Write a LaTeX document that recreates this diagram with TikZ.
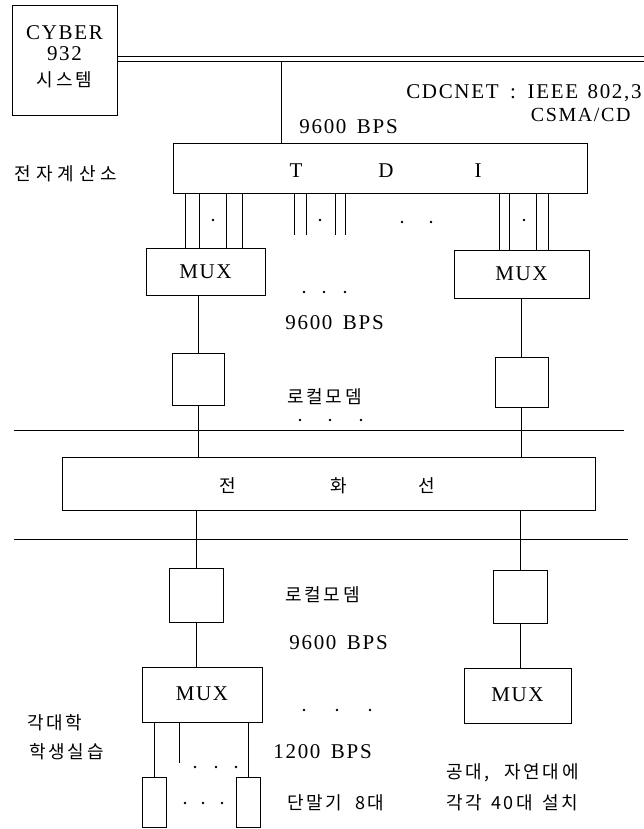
\documentclass[tikz,border=0pt]{standalone}
\usepackage{fontspec}
\setmainfont{Liberation Serif}[LetterSpace=8]
\newfontfamily\kr{Noto Sans CJK KR}[LetterSpace=15]
\newfontfamily\krwide{Noto Sans CJK KR}[LetterSpace=28]
\begin{document}
\begin{tikzpicture}[x=1pt,y=-1pt,line width=0.9pt,
  box/.style={draw,rectangle,inner sep=0pt},
  txt/.style={inner sep=0pt,font=\fontsize{21}{23}\selectfont},
  ktxt/.style={inner sep=0pt,font=\kr\fontsize{18}{20}\selectfont}]
\useasboundingbox (0,0) rectangle (644,829);
% CYBER
\node[box,minimum width=105pt,minimum height=110pt] (cyber) at (64.5,60) {};
\node[txt] (cy1) at (64.5,33) {CYBER};
\node[txt] (cy2) at (64.5,54) {932};
\node[ktxt] (cy3) at (64.5,80) {시스템};
% bus
\coordinate (bus1) at (644,56);
\coordinate (bus2) at (644,61);
\draw (cyber.east |- bus1) -- (bus1);
\draw (cyber.east |- bus2) -- (bus2);
\node[txt,anchor=east] (cdc) at (642,93) {CDCNET\hspace{0.55em}:\hspace{0.55em}IEEE\hspace{0.45em}802,3};
\node[txt,font=\fontsize{20}{22}\selectfont,anchor=east] (csma) at (631,115) {CSMA/CD};
\node[txt,anchor=west] (bps1) at (299,127) {9600\hspace{0.5em}BPS};
% TDI
\node[box,minimum width=414pt,minimum height=50pt] (tdi) at (380,168) {};
\node[txt] (tT) at (296,171) {T};
\node[txt] (tD) at (386,171) {D};
\node[txt] (tI) at (478,171) {I};
\node[ktxt,font=\krwide\fontsize{18}{20}\selectfont] (center) at (66,174) {전자계산소};
\coordinate (tap) at (281,61);
\draw (tap) -- (tap |- tdi.north);
% MUX upper
\node[box,minimum width=119pt,minimum height=47pt] (muxL) at (205.5,271.5) {};
\node[txt] (muxLt) at (205.5,272) {MUX};
\node[box,minimum width=135pt,minimum height=48pt] (muxR) at (521.5,274) {};
\node[txt] (muxRt) at (521.5,274) {MUX};
% lines TDI -> MUX
\foreach \x in {185,199,226,242} \draw (\x,193) -- (\x,248);
\foreach \x in {294,306,335,345} \draw (\x,193) -- (\x,235);
\foreach \x in {499,509,536,548} \draw (\x,193) -- (\x,250);
\foreach \x/\y in {213/220,320/220,524/220,402/222,431/222,304/292,324/292,345/292,300/420,330/420,361/420,304/710,337/710,370/710,195/767,216/767,236/767,185/803,203/803,222/803}
  \fill (\x,\y) circle (1.3pt);
\node[txt,anchor=west] (bps2) at (285,323) {9600\hspace{0.5em}BPS};
% modems upper
\node[box,minimum width=52pt,minimum height=52pt] (modL) at (198,379) {};
\node[box,minimum width=53pt,minimum height=50pt] (modR) at (521.5,382) {};
\draw (modL.north) -- (modL.north |- muxL.south);
\draw (modR.north) -- (modR.north |- muxR.south);
\node[ktxt,anchor=west] (lm1) at (287,397) {로컬모뎀};
% separators
\coordinate (s1a) at (14,430); \coordinate (s1b) at (624,430);
\draw (s1a) -- (s1b);
\coordinate (s2a) at (14,539); \coordinate (s2b) at (628,539);
\draw (s2a) -- (s2b);
% phone line
\node[box,minimum width=533pt,minimum height=53pt] (phone) at (328.5,483.5) {};
\node[ktxt] (p1) at (228,486) {전};
\node[ktxt] (p2) at (339,486) {화};
\node[ktxt] (p3) at (427,486) {선};
\draw (modL.south) -- (modL.south |- phone.north);
\draw (modR.south) -- (modR.south |- phone.north);
% lower modems
\node[box,minimum width=54pt,minimum height=54pt] (lmodL) at (196,595) {};
\node[box,minimum width=54pt,minimum height=53pt] (lmodR) at (520,596.5) {};
\draw (lmodL.north) -- (lmodL.north |- phone.south);
\draw (lmodR.north) -- (lmodR.north |- phone.south);
\node[ktxt,anchor=west] (lm2) at (285,595) {로컬모뎀};
\node[txt,anchor=west] (bps3) at (289,643) {9600\hspace{0.5em}BPS};
% lower MUX
\node[box,minimum width=120pt,minimum height=55pt] (lmuxL) at (202,694.5) {};
\node[txt] (lmuxLt) at (202,694) {MUX};
\node[box,minimum width=107pt,minimum height=55pt] (lmuxR) at (517.5,695.5) {};
\node[txt] (lmuxRt) at (517.5,695) {MUX};
\draw (lmodL.south) -- (lmodL.south |- lmuxL.north);
\draw (lmodR.south) -- (lmodR.south |- lmuxR.north);
\node[ktxt,anchor=west] (univ1) at (27,723) {각대학};
\node[ktxt,anchor=west] (univ2) at (29,752) {학생실습};
\node[txt,anchor=west] (bps4) at (273,752) {1200\hspace{0.5em}BPS};
% terminals
\node[box,minimum width=24pt,minimum height=50pt] (termL) at (154,802) {};
\node[box,minimum width=24pt,minimum height=50pt] (termR) at (248,802) {};
\coordinate (mid1) at (179,763);
\draw (termL.north) -- (termL.north |- lmuxL.south);
\draw (termR.north) -- (termR.north |- lmuxL.south);
\draw (mid1) -- (mid1 |- lmuxL.south);
\node[ktxt,anchor=west] (term) at (287,803) {단말기\hspace{0.7em}8대};
\node[ktxt,anchor=west] (inst1) at (446,773) {공대,\hspace{0.8em}자연대에};
\node[ktxt,anchor=west] (inst2) at (446,803) {각각\hspace{0.5em}40대\hspace{0.5em}설치};
\end{tikzpicture}
\end{document}
